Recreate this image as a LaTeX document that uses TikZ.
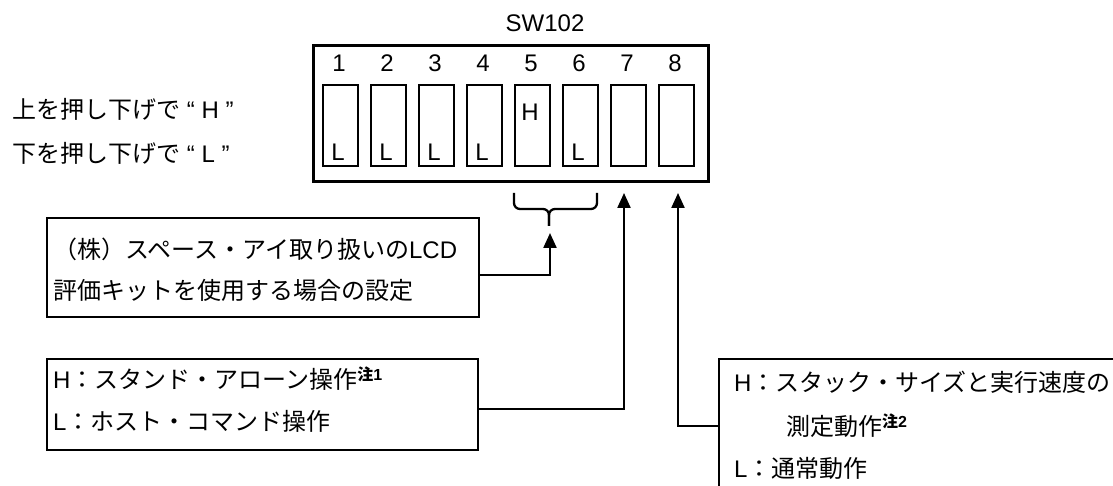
\documentclass[tikz,border=0pt]{standalone}
\usepackage{fontspec}
\setmainfont{Liberation Sans}
\newfontfamily\jp{Noto Sans CJK JP}
\usetikzlibrary{arrows.meta}
\tikzset{
  frame/.style={draw,line width=2.6pt,inner sep=0pt},
  swbox/.style={draw,line width=2.3pt,minimum width=35pt,minimum height=81pt,inner sep=0pt},
  notebox/.style={draw,line width=2.3pt,inner sep=0pt,anchor=north west},
  txt/.style={anchor=west,inner sep=0pt},
  wire/.style={line width=2.3pt},
  tip/.style={-{Triangle[length=15pt,width=13pt]}},
}
\newcommand{\chu}[1]{\raisebox{8pt}{\fontsize{16}{16}\selectfont\bfseries{\jp 注}#1}}
\begin{document}
\begin{tikzpicture}[x=1pt,y=-1pt,font=\fontsize{24}{28}\selectfont]
\useasboundingbox (0,0) rectangle (1113,486);
\clip (0,0) rectangle (1113,486);
% DIP switch
\node[inner sep=0pt] (name) at (545,23) {SW102};
\node[frame,minimum width=395pt,minimum height=136pt,anchor=north west] (sw) at (312,44) {};
\foreach \i in {1,...,8}{
  \node[swbox] (s\i) at ({340.5+48*(\i-1)},125.5) {};
  \node[inner sep=0pt] (n\i) at ({339+48*(\i-1)},63) {\i};
}
\foreach \i in {1,2,3,4,6}
  \node[inner sep=0pt] (l\i) at ({338+48*(\i-1)},152) {L};
\node[inner sep=0pt] (h5) at (530,112) {H};
\node[txt] (up) at (12,109) {{\jp 上を押し下げで} “ H ”};
\node[txt] (down) at (12,153) {{\jp 下を押し下げで} “ L ”};
% brace over 5 and 6
\draw[wire,rounded corners=6pt] (514,193) |- (549,209) -- (549,226);
\draw[wire,rounded corners=6pt] (597,193) |- (549,209) -- (549,226);
\coordinate (a5) at (550,233);
\coordinate (a7) at (624,193);
\coordinate (a8) at (678,193);
% note boxes
\node[notebox,minimum width=432pt,minimum height=99pt] (lcd) at (46,217) {};
\node[txt] (lcd1) at (53,249) {{\jp （株）スペース・アイ取り扱いの}LCD};
\node[txt] (lcd2) at (53,290) {\jp 評価キットを使用する場合の設定};
\node[notebox,minimum width=431pt,minimum height=91pt] (cmd) at (46,358) {};
\node[txt] (cmd1) at (53,379) {H{\jp ：スタンド・アローン操作}\chu{1}};
\node[txt] (cmd2) at (53,421) {L{\jp ：ホスト・コマンド操作}};
\node[notebox,minimum width=420pt,minimum height=134pt] (stk) at (718,358) {};
\node[txt] (stk1) at (734,382) {H{\jp ：スタック・サイズと実行速度の}};
\node[txt] (stk2) at (786,426) {{\jp 測定動作}\chu{2}};
\node[txt] (stk3) at (734,468) {L{\jp ：通常動作}};
% connectors
\draw[wire,tip] ([yshift=-7.5pt]lcd.east) -| (a5);
\draw[wire,tip] ([yshift=-4.5pt]cmd.east) -| (a7);
\draw[wire,tip] (stk.west) -| (a8);
\end{tikzpicture}
\end{document}
